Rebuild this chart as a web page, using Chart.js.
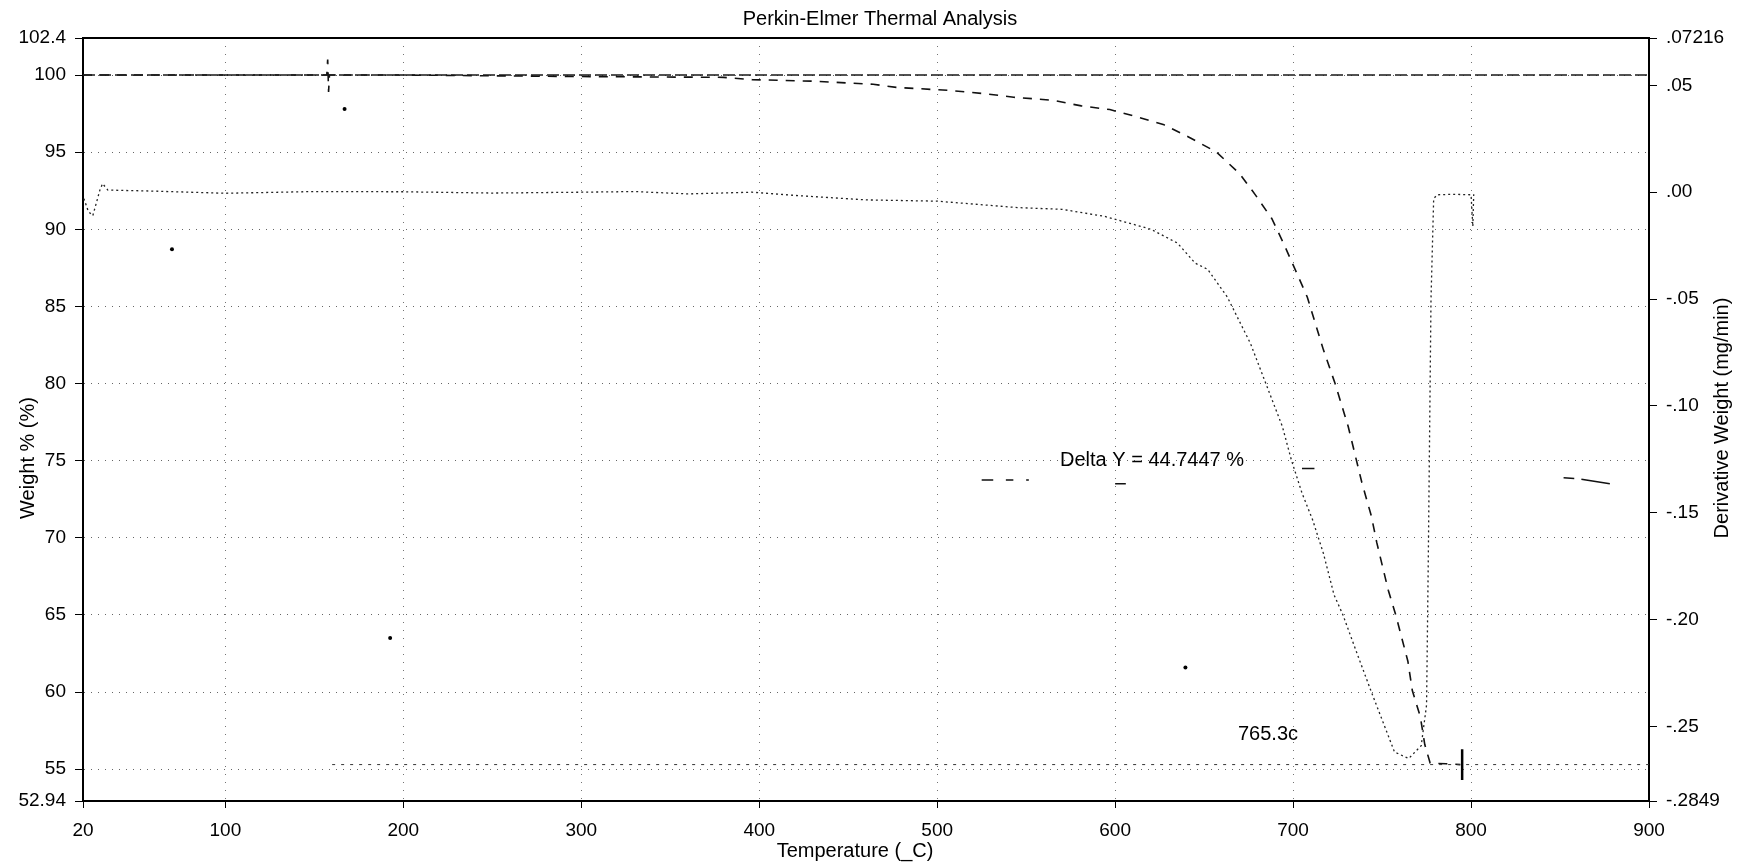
<!DOCTYPE html>
<html>
<head>
<meta charset="utf-8">
<title>Perkin-Elmer Thermal Analysis</title>
<script src="https://cdn.jsdelivr.net/npm/chart.js@4.4.1/dist/chart.umd.min.js"></script>
<style>
  html, body { margin: 0; padding: 0; background: #fff; }
  #wrap { width: 1748px; height: 865px; }
</style>
</head>
<body>
<div id="wrap"><canvas id="tga" width="1748" height="865"></canvas></div>
<script>
// tick values
const xTicks = [20, 100, 200, 300, 400, 500, 600, 700, 800, 900];
const weightTicks = [52.94, 55, 60, 65, 70, 75, 80, 85, 90, 95, 100, 102.4];
const derivTicks = [-0.2849, -0.25, -0.20, -0.15, -0.10, -0.05, 0.00, 0.05, 0.07216];
const derivTickLabels = ['-.2849', '-.25', '-.20', '-.15', '-.10', '-.05', '.00', '.05', '.07216'];

// weight % curve (left axis)
const weightTemp = [20, 100, 157, 157.5, 158, 158.5, 200, 300, 380, 396, 430, 464, 477, 507, 526, 543, 565, 581, 597,
  612, 627, 641, 657, 670, 679, 688, 695, 701.5, 708, 717, 723.6, 731, 738.6, 744, 747, 753.5, 757.7, 764.5, 767,
  771.5, 774, 777, 786, 794];
const weightPct = [100.0, 100.0, 100.0, 101.0, 98.9, 100.0, 100.0, 99.9, 99.85, 99.7, 99.6, 99.4, 99.2, 99.0, 98.8,
  98.56, 98.36, 98.0, 97.76, 97.3, 96.8, 96.0, 95.0, 93.6, 92.2, 90.7, 89.0, 87.3, 85.6, 82.2, 80.0, 77.2, 73.6,
  71.4, 69.7, 66.6, 65.0, 62.0, 60.1, 58.4, 56.6, 55.4, 55.35, 55.3];

// derivative weight curve (right axis, mg/min)
const derivTemp = [20.5, 23, 25.5, 27.5, 29.5, 31, 34, 60, 100, 150, 200, 250, 300, 330, 360, 396, 420, 460, 500,
  545, 570, 594, 620, 635, 645, 652, 663, 676, 686, 694, 699, 705, 711, 717, 723, 728, 736, 744, 751, 757, 765,
  772, 775, 776, 777.5, 779, 781, 790, 800, 801, 801.5];
const derivVal = [-0.003, -0.009, -0.011, -0.005, 0.001, 0.004, 0.001, 0.0005, -0.0005, 0.0003, 0.0002, -0.0004,
  0.0, 0.0003, -0.0008, 0.0, -0.0015, -0.0036, -0.0042, -0.0072, -0.008, -0.0113, -0.0173, -0.0238, -0.0332,
  -0.0361, -0.049, -0.0707, -0.0924, -0.1097, -0.1252, -0.1408, -0.1534, -0.1689, -0.1884, -0.1978, -0.216,
  -0.2339, -0.249, -0.262, -0.265, -0.259, -0.24, -0.17, -0.05, -0.003, -0.0012, -0.001, -0.0012, -0.016, -0.001];

// Delta Y cursor levels (left axis)
const cursorUpper = 100.0;
const cursorLower = 55.3;
const upperRange = [20, 900];
const lowerRange = [160, 900];

// end marker of the lower cursor
const markerTemp = [795, 795];
const markerPct = [56.3, 54.3];

// short leader dashes near the Delta Y label (null = break)
const leaderTemp = [525, 531.5, null, 538.6, 542.8, null, 550, 551.5, null, 600, 606, null, 705, 712, null, 852, 858, null, 862, 878];
const leaderPct = [73.75, 73.75, null, 73.75, 73.75, null, 73.75, 73.75, null, 73.5, 73.5, null, 74.5, 74.5, null, 73.9, 73.85, null, 73.8, 73.5];

// isolated specks on the record
const speckTemp = [70, 167, 192.6, 639.5];
const speckPct = [88.7, 97.8, 63.5, 61.6];

const FONT = '"Liberation Sans", Arial, sans-serif';

function toPoints(xs, ys) {
  return xs.map((x, i) => ({ x: x, y: ys[i] }));
}

// titles, axis names and annotation text
const textPlugin = {
  id: 'texts',
  afterDraw(chart) {
    const ctx = chart.ctx;
    const area = chart.chartArea;
    ctx.save();
    ctx.fillStyle = '#000';
    ctx.font = '20px ' + FONT;
    ctx.textAlign = 'center';
    ctx.textBaseline = 'alphabetic';
    ctx.fillText('Perkin-Elmer Thermal Analysis', 880, 25);
    ctx.fillText('Temperature (_C)', 855, 857);

    ctx.save();
    ctx.translate(28, 458);
    ctx.rotate(-Math.PI / 2);
    ctx.textBaseline = 'middle';
    ctx.fillText('Weight % (%)', 0, 0);
    ctx.restore();

    ctx.save();
    ctx.translate(1722, 418);
    ctx.rotate(-Math.PI / 2);
    ctx.textBaseline = 'middle';
    ctx.fillText('Derivative Weight (mg/min)', 0, 0);
    ctx.restore();

    ctx.textAlign = 'left';
    ctx.fillText('Delta Y = 44.7447 %', 1060, 466);
    ctx.fillText('765.3c', 1238, 740);

    // top frame line
    ctx.strokeStyle = '#000';
    ctx.lineWidth = 2;
    ctx.beginPath();
    ctx.moveTo(area.left, area.top);
    ctx.lineTo(area.right, area.top);
    ctx.stroke();
    ctx.restore();
  }
};

const dotted = [1, 6];

new Chart(document.getElementById('tga'), {
  type: 'line',
  data: {
    datasets: [
      {
        label: 'Delta Y upper',
        data: toPoints(upperRange, [cursorUpper, cursorUpper]),
        yAxisID: 'y',
        borderColor: '#1a1a1a',
        borderWidth: 1.6,
        borderDash: [12, 4],
        pointRadius: 0
      },
      {
        label: 'Delta Y lower',
        data: toPoints(lowerRange, [cursorLower, cursorLower]),
        yAxisID: 'y',
        borderColor: '#333',
        borderWidth: 1,
        borderDash: [3, 6],
        pointRadius: 0
      },
      {
        label: 'Cursor marker',
        data: toPoints(markerTemp, markerPct),
        yAxisID: 'y',
        borderColor: '#000',
        borderWidth: 2.5,
        pointRadius: 0
      },
      {
        label: 'Leaders',
        data: toPoints(leaderTemp, leaderPct),
        yAxisID: 'y',
        borderColor: '#111',
        borderWidth: 1.5,
        spanGaps: false,
        pointRadius: 0
      },
      {
        label: 'Specks',
        type: 'scatter',
        data: toPoints(speckTemp, speckPct),
        yAxisID: 'y',
        backgroundColor: '#000',
        borderWidth: 0,
        pointRadius: 2
      },
      {
        label: 'Weight %',
        data: toPoints(weightTemp, weightPct),
        yAxisID: 'y',
        borderColor: '#111',
        borderWidth: 1.6,
        borderDash: [9, 8],
        pointRadius: 0,
        tension: 0
      },
      {
        label: 'Derivative Weight',
        data: toPoints(derivTemp, derivVal),
        yAxisID: 'y1',
        borderColor: '#222',
        borderWidth: 1.3,
        borderDash: [2, 3],
        pointRadius: 0,
        tension: 0
      }
    ]
  },
  options: {
    responsive: false,
    animation: false,
    devicePixelRatio: 1,
    layout: { padding: { top: 38, left: 0, right: 0, bottom: 0 } },
    plugins: {
      legend: { display: false },
      tooltip: { enabled: false },
      title: { display: false }
    },
    scales: {
      x: {
        type: 'linear',
        min: 20,
        max: 900,
        afterBuildTicks: s => { s.ticks = xTicks.map(v => ({ value: v })); },
        afterFit: s => { s.height = 64; },
        ticks: {
          autoSkip: false,
          maxRotation: 0,
          padding: 11,
          color: '#000',
          font: { family: FONT, size: 19 },
          callback: v => String(v)
        },
        grid: {
          color: c => (c.tick && (c.tick.value === 20 || c.tick.value === 900)) ? 'rgba(0,0,0,0)' : 'rgba(0,0,0,0.55)',
          tickColor: '#000',
          tickLength: 7,
          lineWidth: 1
        },
        border: { display: true, color: '#000', width: 2, dash: [1, 7] }
      },
      y: {
        type: 'linear',
        position: 'left',
        min: 52.94,
        max: 102.4,
        afterBuildTicks: s => { s.ticks = weightTicks.map(v => ({ value: v })); },
        afterFit: s => { s.width = 83; },
        ticks: {
          autoSkip: false,
          padding: 9,
          color: '#000',
          font: { family: FONT, size: 19 },
          callback: v => String(v)
        },
        grid: {
          color: c => (c.tick && (c.tick.value === 52.94 || c.tick.value === 102.4)) ? 'rgba(0,0,0,0)' : 'rgba(0,0,0,0.6)',
          tickColor: '#000',
          tickLength: 8,
          lineWidth: 1
        },
        border: { display: true, color: '#000', width: 2, dash: dotted }
      },
      y1: {
        type: 'linear',
        position: 'right',
        min: -0.2849,
        max: 0.07216,
        afterBuildTicks: s => { s.ticks = derivTicks.map(v => ({ value: v })); },
        afterFit: s => { s.width = 99; },
        ticks: {
          autoSkip: false,
          padding: 9,
          color: '#000',
          font: { family: FONT, size: 19 },
          callback: (v, i) => derivTickLabels[i]
        },
        grid: {
          drawOnChartArea: false,
          tickColor: '#000',
          tickLength: 8
        },
        border: { display: true, color: '#000', width: 2 }
      }
    }
  },
  plugins: [textPlugin]
});
</script>
</body>
</html>
